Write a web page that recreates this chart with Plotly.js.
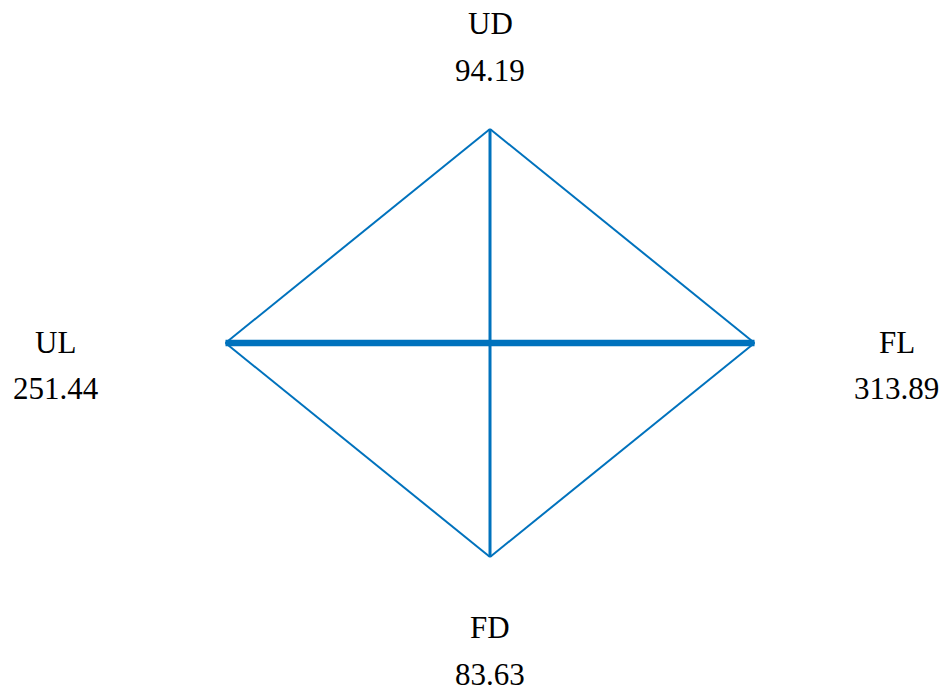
<!DOCTYPE html>
<html>
<head>
<meta charset="utf-8">
<script src="https://cdn.plot.ly/plotly-3.0.1.min.js"></script>
<style>html,body{margin:0;padding:0;background:#fff;}#chart{width:944px;height:693px;}
#chart text{font-family:"Liberation Serif","Times New Roman",serif !important;}</style>
</head>
<body>
<div id="chart"></div>
<script>
// Nodes (names and values)
const nodeNames = ["UD", "FL", "FD", "UL"];
const nodeValues = [94.19, 313.89, 83.63, 251.44];
// Node layout on a unit diamond
const nodeX = [0, 1, 0, -1];
const nodeY = [1, 0, -1, 0];
// Edges: from, to, drawn weight (line width)
const edgeFrom = ["UD", "FL", "FD", "UL", "UD", "UL"];
const edgeTo   = ["FL", "FD", "UL", "UD", "FD", "FL"];
const edgeWidth = [2, 2, 2, 2, 3, 6.5];

const color = "rgb(0,114,189)";
const idx = n => nodeNames.indexOf(n);

const traces = edgeFrom.map((f, i) => {
  const a = idx(f), b = idx(edgeTo[i]);
  return {
    type: "scatter", mode: "lines",
    x: [nodeX[a], nodeX[b]], y: [nodeY[a], nodeY[b]],
    line: {color: color, width: edgeWidth[i]},
    hoverinfo: "skip", showlegend: false
  };
});

// label offsets (pixels) per node: [labelDx, labelDy, valueDx, valueDy]
const offsets = {
  UD: [0, 106, 0, 59],
  FL: [142, 1, 142, -45],
  FD: [0, -70, 0, -117],
  UL: [-170, 1, -170, -45]
};
const font = {family: "'Liberation Serif', 'Times New Roman', serif", size: 31, color: "#000"};
const annotations = [];
nodeNames.forEach((n, i) => {
  const o = offsets[n];
  annotations.push({x: nodeX[i], y: nodeY[i], xref: "x", yref: "y", text: n,
    showarrow: false, xshift: o[0], yshift: o[1], font: font, xanchor: "center", yanchor: "middle"});
  annotations.push({x: nodeX[i], y: nodeY[i], xref: "x", yref: "y", text: nodeValues[i].toFixed(2),
    showarrow: false, xshift: o[2], yshift: o[3], font: font, xanchor: "center", yanchor: "middle"});
});

const layout = {
  width: 944, height: 693,
  margin: {l: 0, r: 0, t: 0, b: 0},
  paper_bgcolor: "#fff", plot_bgcolor: "#fff",
  font: {family: "'Liberation Serif', 'Times New Roman', serif"},
  xaxis: {range: [-1.8526, 1.7164], visible: false, fixedrange: true},
  yaxis: {range: [-1.6355, 1.6028], visible: false, fixedrange: true},
  annotations: annotations,
  showlegend: false
};
Plotly.newPlot("chart", traces, layout, {staticPlot: true, displayModeBar: false});
</script>
</body>
</html>
